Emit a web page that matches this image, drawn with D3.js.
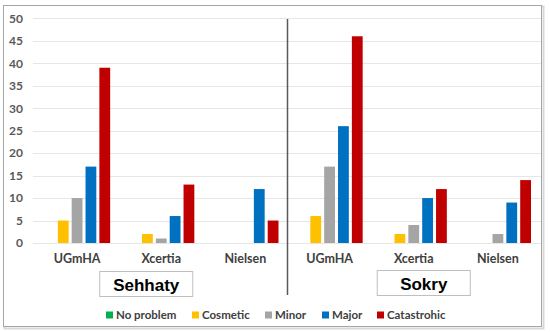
<!DOCTYPE html>
<html>
<head>
<meta charset="utf-8">
<script src="https://cdn.jsdelivr.net/npm/d3@7"></script>
<style>
  body { margin: 0; background: #fff; }
  svg { display: block; font-family: Lato, 'Open Sans', sans-serif; }
</style>
</head>
<body>
<svg id="chart" width="550" height="332"></svg>
<script>
const apps = ['Sehhaty', 'Sokry'];
const guidelines = ['UGmHA', 'Xcertia', 'Nielsen'];
const series = ['No problem', 'Cosmetic', 'Minor', 'Major', 'Catastrohic'];
const colors = ['#00b050', '#ffc000', '#a5a5a5', '#0070c0', '#c00000'];

// one row per app/guideline, one value per severity
const sehhatyValues = [
  [0, 5, 10, 17, 39],
  [0, 2, 1, 6, 13],
  [0, 0, 0, 12, 5],
];
const sokryValues = [
  [0, 6, 17, 26, 46],
  [0, 2, 4, 10, 12],
  [0, 0, 2, 9, 14],
];
const yTicks = [0, 5, 10, 15, 20, 25, 30, 35, 40, 45, 50];

const groups = [];
[sehhatyValues, sokryValues].forEach((rows, a) => {
  rows.forEach((row, g) => {
    groups.push({key: `${apps[a]}-${guidelines[g]}`, app: apps[a], label: guidelines[g], values: row});
  });
});

const svg = d3.select('#chart');

// frame with a soft shadow
svg.append('rect')
  .attr('x', 4.5).attr('y', 6.5)
  .attr('width', 539).attr('height', 322)
  .attr('fill', 'none').attr('stroke', '#d9d9d9').attr('stroke-width', 2);
svg.append('rect')
  .attr('x', 3.5).attr('y', 5.5)
  .attr('width', 538).attr('height', 321)
  .attr('fill', '#fff').attr('stroke', '#a6a6a6');

const x0 = d3.scaleBand()
  .domain(groups.map((d) => d.key))
  .range([35, 540]);

const x1 = d3.scaleBand()
  .domain(series)
  .range([9, x0.bandwidth() - 9])
  .paddingInner(0.22);

const y = d3.scaleLinear()
  .domain([0, 50])
  .range([243, 18.3]);

// gridlines
svg.append('g')
  .selectAll('line')
  .data(yTicks)
  .enter()
  .append('line')
  .attr('x1', 33).attr('x2', 541)
  .attr('y1', (d) => Math.round(y(d)) + 0.5)
  .attr('y2', (d) => Math.round(y(d)) + 0.5)
  .attr('stroke', '#e6e6e6');

// y axis labels
const yAxis = svg.append('g')
  .attr('transform', 'translate(23,0)')
  .call(d3.axisLeft(y).tickValues(yTicks).tickSize(0).tickPadding(0));
yAxis.select('.domain').remove();
yAxis.selectAll('text')
  .attr('fill', '#595959')
  .style('font-size', '12px')
  .style('font-weight', 700)
  .style('font-family', 'Lato, sans-serif');

// bars
const group = svg.append('g')
  .selectAll('g')
  .data(groups)
  .enter()
  .append('g')
  .attr('transform', (d) => `translate(${x0(d.key)},0)`);

group.selectAll('rect')
  .data((d) => d.values.map((v, i) => ({series: series[i], value: v, color: colors[i]})))
  .enter()
  .append('rect')
  .attr('x', (d) => x1(d.series))
  .attr('width', x1.bandwidth())
  .attr('y', (d) => y(d.value))
  .attr('height', (d) => y(0) - y(d.value))
  .attr('fill', (d) => d.color);

// category labels
const xAxis = svg.append('g')
  .attr('transform', `translate(0,${y(0)})`)
  .call(d3.axisBottom(x0).tickSize(0).tickPadding(11).tickFormat((k) => groups.find((g) => g.key == k).label));
xAxis.select('.domain').remove();
xAxis.selectAll('text')
  .attr('fill', '#404040')
  .style('font-size', '12.5px')
  .style('font-weight', 700)
  .style('font-family', 'Lato, sans-serif');

// separator between the two apps
const sepX = x0(groups[3].key);
svg.append('line')
  .attr('x1', sepX).attr('x2', sepX)
  .attr('y1', 19).attr('y2', 295)
  .attr('stroke', '#595959').attr('stroke-width', 1.5);

// app name boxes, nudged off the group middle as in the original
const boxShift = [-15, 10];
const boxTop = [271.5, 270.5];
apps.forEach((app, a) => {
  const first = x0(groups[a * 3].key);
  const cx = first + x0.step() * 1.5 + boxShift[a];
  svg.append('rect')
    .attr('x', cx - 46.5).attr('y', boxTop[a])
    .attr('width', 93).attr('height', 25)
    .attr('fill', '#fff').attr('stroke', '#bfbfbf');
  svg.append('text')
    .attr('x', cx).attr('y', boxTop[a] + 19)
    .attr('text-anchor', 'middle')
    .style('font-family', "'Liberation Sans', Arial, sans-serif")
    .style('font-size', '17px')
    .style('font-weight', 700)
    .attr('fill', '#000')
    .text(app);
});

// legend
const legendX = [106, 192, 265, 322, 377];
const legend = svg.append('g')
  .selectAll('g')
  .data(series)
  .enter()
  .append('g')
  .attr('transform', (d, i) => `translate(${legendX[i]},315)`);
legend.append('rect')
  .attr('x', 0).attr('y', -3.5)
  .attr('width', 7).attr('height', 7)
  .attr('fill', (d, i) => colors[i]);
legend.append('text')
  .attr('x', 10).attr('y', 4)
  .attr('fill', '#404040')
  .style('font-size', '11.5px')
  .style('font-weight', 700)
  .text((d) => d);
</script>
</body>
</html>
